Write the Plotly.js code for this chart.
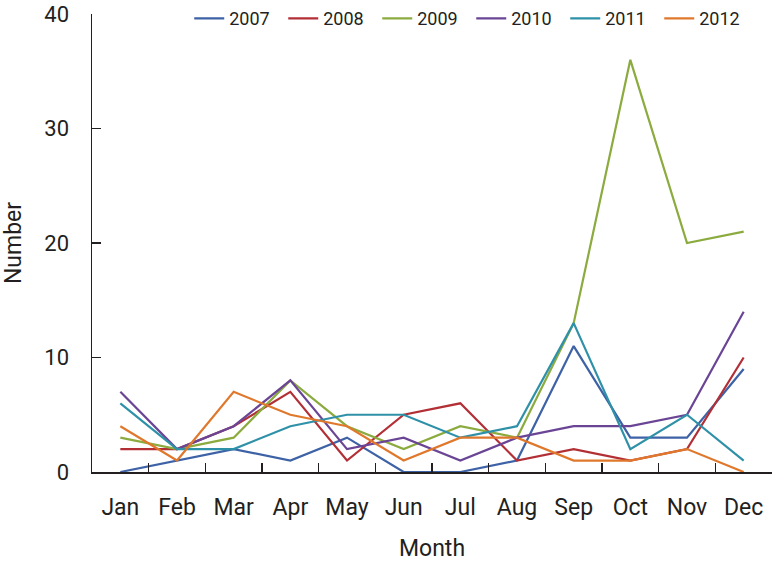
<!DOCTYPE html>
<html>
<head>
<meta charset="utf-8">
<script src="https://cdn.plot.ly/plotly-3.0.1.min.js"></script>
<style>html,body{margin:0;padding:0;background:#fff;}#chart{width:773px;height:562px;}</style>
</head>
<body>
<div id="chart"></div>
<script>
const months = ["Jan","Feb","Mar","Apr","May","Jun","Jul","Aug","Sep","Oct","Nov","Dec"];
const seriesNames = ["2007","2008","2009","2010","2011","2012"];
const y2007 = [0,1,2,1,3,0,0,1,11,3,3,9];
const y2008 = [2,2,4,7,1,5,6,1,2,1,2,10];
const y2009 = [3,2,3,8,4,2,4,3,13,36,20,21];
const y2010 = [7,2,4,8,2,3,1,3,4,4,5,14];
const y2011 = [6,2,2,4,5,5,3,4,13,2,5,1];
const y2012 = [4,1,7,5,4,1,3,3,1,1,2,0];
const yTicks = [0,10,20,30,40];

const seriesValues = [y2007,y2008,y2009,y2010,y2011,y2012];
const colors = ["#3d62a6","#b22f36","#8bab3f","#6a4595","#2f91a8","#e0782c"];
const FONT = "Roboto,'DejaVu Sans Condensed',sans-serif";

const traces = seriesNames.map((name,i)=>({
  type:"scatter", mode:"lines", name:name,
  x:months, y:seriesValues[i],
  line:{color:colors[i], width:2.2}
}));

const layout = {
  width:773, height:562,
  margin:{l:92, r:1, t:14, b:90, autoexpand:false},
  paper_bgcolor:"#fff", plot_bgcolor:"#fff",
  font:{family:FONT, size:23, color:"#231f20"},
  showlegend:true,
  legend:{orientation:"h", x:0.143, xanchor:"left", y:1.03, yanchor:"top",
          font:{family:FONT, size:18, color:"#231f20"}, entrywidth:49, itemwidth:30,
          bgcolor:"rgba(0,0,0,0)"},
  xaxis:{
    type:"category", range:[-0.5,11.5], tickson:"boundaries",
    ticks:"inside", ticklen:9, tickwidth:1.3, tickcolor:"#231f20",
    showline:true, linecolor:"#231f20", linewidth:1.5,
    showgrid:false, zeroline:false, ticklabelstandoff:14, ticklabeloverflow:"allow",
    title:{text:"Month", font:{family:FONT,size:23,color:"#231f20"}, standoff:25}
  },
  yaxis:{
    range:[0,40], tickvals:yTicks, ticktext:yTicks.map(String),
    tickfont:{family:FONT, size:22, color:"#231f20"},
    ticks:"inside", ticklen:9, tickwidth:1.3, tickcolor:"#231f20",
    showline:true, linecolor:"#231f20", linewidth:1.5,
    showgrid:false, zeroline:false, ticklabelstandoff:17, ticklabeloverflow:"allow",
    title:{text:"Number", font:{family:FONT,size:23,color:"#231f20"}, standoff:20}
  }
};
Plotly.newPlot("chart", traces, layout, {displayModeBar:false, staticPlot:true});
</script>
</body>
</html>
